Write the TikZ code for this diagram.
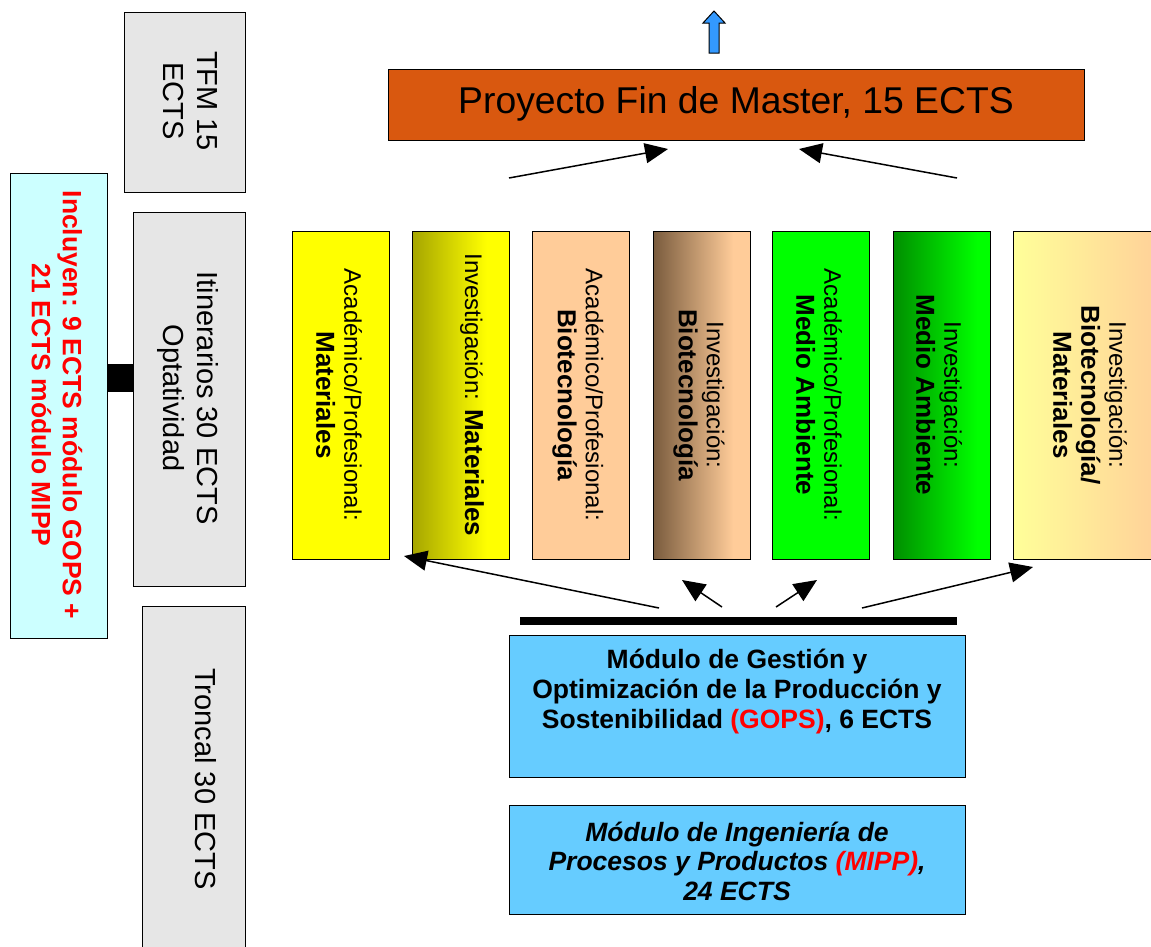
\documentclass[tikz,border=0pt]{standalone}
\usepackage{fontspec}
\setmainfont{Liberation Sans}
\usetikzlibrary{arrows.meta}

\definecolor{boxgray}{HTML}{E6E6E6}
\definecolor{boxcyan}{HTML}{CCFFFF}
\definecolor{pfmorange}{HTML}{D9580F}
\definecolor{modblue}{HTML}{66CCFF}
\definecolor{upblue}{HTML}{3399FF}
\definecolor{peach}{HTML}{FFCC99}
\definecolor{paleyellow}{HTML}{FFFF99}
\definecolor{olivedark}{HTML}{A6A600}
\definecolor{browndark}{HTML}{7A5C3E}
\definecolor{greendark}{HTML}{008F00}
\definecolor{brightgreen}{HTML}{00FF00}
\definecolor{brightyellow}{HTML}{FFFF00}
\definecolor{labelred}{HTML}{FF0000}

% left-to-right fills of the research itineraries
\pgfdeclarehorizontalshading{matinv}{100bp}{color(0bp)=(olivedark); color(25bp)=(olivedark); color(63bp)=(brightyellow); color(100bp)=(brightyellow)}
\pgfdeclarehorizontalshading{bioinv}{100bp}{color(0bp)=(browndark); color(25bp)=(browndark); color(66bp)=(peach); color(100bp)=(peach)}
\pgfdeclarehorizontalshading{mainv}{100bp}{color(0bp)=(greendark); color(25bp)=(greendark); color(68bp)=(brightgreen); color(100bp)=(brightgreen)}
\pgfdeclarehorizontalshading{biomatinv}{100bp}{color(0bp)=(paleyellow); color(25bp)=(paleyellow); color(75bp)=(peach); color(100bp)=(peach)}

\newcommand\colnorm{\fontsize{24}{28}\selectfont}
\newcommand\colbold[1]{{\bfseries\fontsize{26}{28}\selectfont #1}}

\begin{document}
\begin{tikzpicture}[x=1pt,y=-1pt,
  framed/.style={draw=black, line width=1.4pt, anchor=north west, inner sep=0pt},
  grayblock/.style={framed, fill=boxgray},
  colbox/.style={framed, minimum width=97, minimum height=328},
  rot/.style={rotate=-90, align=center, inner sep=0pt},
  bigtext/.style={font=\fontsize{29}{34}\selectfont},
  modtext/.style={align=center, inner sep=0pt, font=\bfseries\fontsize{26.5}{30}\selectfont},
  conn/.style={line width=1.5pt, -{Triangle[length=23pt,width=20pt]}}]

\useasboundingbox (0,0) rectangle (1151,946);

% ---- left column: credit blocks ----
\node[grayblock, minimum width=121, minimum height=180] (tfm) at (124,12) {};
\node[rot, bigtext] (tfmtxt) at (190,101) {TFM 15\\ECTS};

\node[grayblock, minimum width=112, minimum height=374] (itin) at (133,212) {};
\node[rot, bigtext] (itintxt) at (188,398) {Itinerarios 30 ECTS\\Optatividad};

\node[grayblock, minimum width=103, minimum height=346] (tronc) at (142,606) {};
\node[rot, bigtext] (tronctxt) at (206,779) {Troncal 30 ECTS};

\node[framed, fill=boxcyan, minimum width=97, minimum height=465] (incl) at (10,173) {};
\node[rot, text=labelred, font=\bfseries\fontsize{26.5}{31}\selectfont] (incltxt) at (57,405)
  {Incluyen: 9 ECTS módulo GOPS +\\21 ECTS módulo MIPP};

\node[fill=black, inner sep=0pt, anchor=north west, minimum width=26, minimum height=28] (link) at (107,364) {};

% ---- master project ----
\node[framed, fill=pfmorange, minimum width=696, minimum height=71] (pfm) at (388,69) {};
\node[inner sep=0pt, font=\fontsize{37.3}{40}\selectfont] (pfmtxt) at (736,104) {Proyecto Fin de Master, 15 ECTS};

\filldraw[fill=upblue, draw=black, line width=1pt, line join=miter]
  (709,53) -- (709,23) -- (703,23) -- (714,11) -- (725,23) -- (719,23) -- (719,53) -- cycle;

% ---- itineraries ----
\node[colbox, fill=brightyellow] (c1) at (292,231) {};
\node[colbox, shading=matinv] (c2) at (412,231) {};
\node[colbox, fill=peach] (c3) at (532,231) {};
\node[colbox, shading=bioinv] (c4) at (653,231) {};
\node[colbox, fill=brightgreen] (c5) at (772,231) {};
\node[colbox, shading=mainv] (c6) at (893,231) {};
\node[colbox, shading=biomatinv, minimum width=160] (c7) at (1013,231) {};

\node[rot, font=\colnorm] (t1) at (339,395) {Académico/Profesional:\\\colbold{Materiales}};
\node[rot, font=\colnorm] (t2) at (472,395) {Investigación: \colbold{Materiales}};
\node[rot, font=\colnorm] (t3) at (578,395) {Académico/Profesional:\\\colbold{Biotecnología}};
\node[rot, font=\colnorm] (t4) at (699,395) {Investigación:\\\colbold{Biotecnología}};
\node[rot, font=\colnorm] (t5) at (819,395) {Académico/Profesional:\\\colbold{Medio Ambiente}};
\node[rot, font=\colnorm] (t6) at (939,395) {Investigación:\\\colbold{Medio Ambiente}};
\node[rot, font=\colnorm] (t7) at (1090,395) {Investigación:\\\colbold{Biotecnología/}\\\colbold{Materiales}};

% ---- modules ----
\node[fill=black, inner sep=0pt, anchor=north west, minimum width=437, minimum height=8] (bar) at (520,617) {};

\node[framed, fill=modblue, minimum width=456, minimum height=142] (gops) at (509,635) {};
\node[modtext] (gopstxt) at (737,692)
  {Módulo de Gestión y\\Optimización de la Producción y\\Sostenibilidad \textcolor{labelred}{(GOPS)}, 6 ECTS};

\node[framed, fill=modblue, minimum width=456, minimum height=109] (mipp) at (509,805) {};
\node[modtext, font=\bfseries\itshape\fontsize{26.5}{29.5}\selectfont] (mipptxt) at (737,861)
  {Módulo de Ingeniería de\\Procesos y Productos \textcolor{labelred}{(MIPP)},\\24 ECTS};

% ---- connectors ----
\coordinate (ua) at (509,178);  \coordinate (ub) at (668,149);
\coordinate (va) at (957,178);  \coordinate (vb) at (799,149);
\draw[conn] (ua) -- (ub);
\draw[conn] (va) -- (vb);

\coordinate (b1) at (659,608);  \coordinate (e1) at (404,556);
\coordinate (b2) at (722,607);  \coordinate (e2) at (682,580);
\coordinate (b3) at (776,607);  \coordinate (e3) at (817,580);
\coordinate (b4) at (862,608);  \coordinate (e4) at (1033,567);
\draw[conn] (b1) -- (e1);
\draw[conn] (b2) -- (e2);
\draw[conn] (b3) -- (e3);
\draw[conn] (b4) -- (e4);
\end{tikzpicture}
\end{document}
